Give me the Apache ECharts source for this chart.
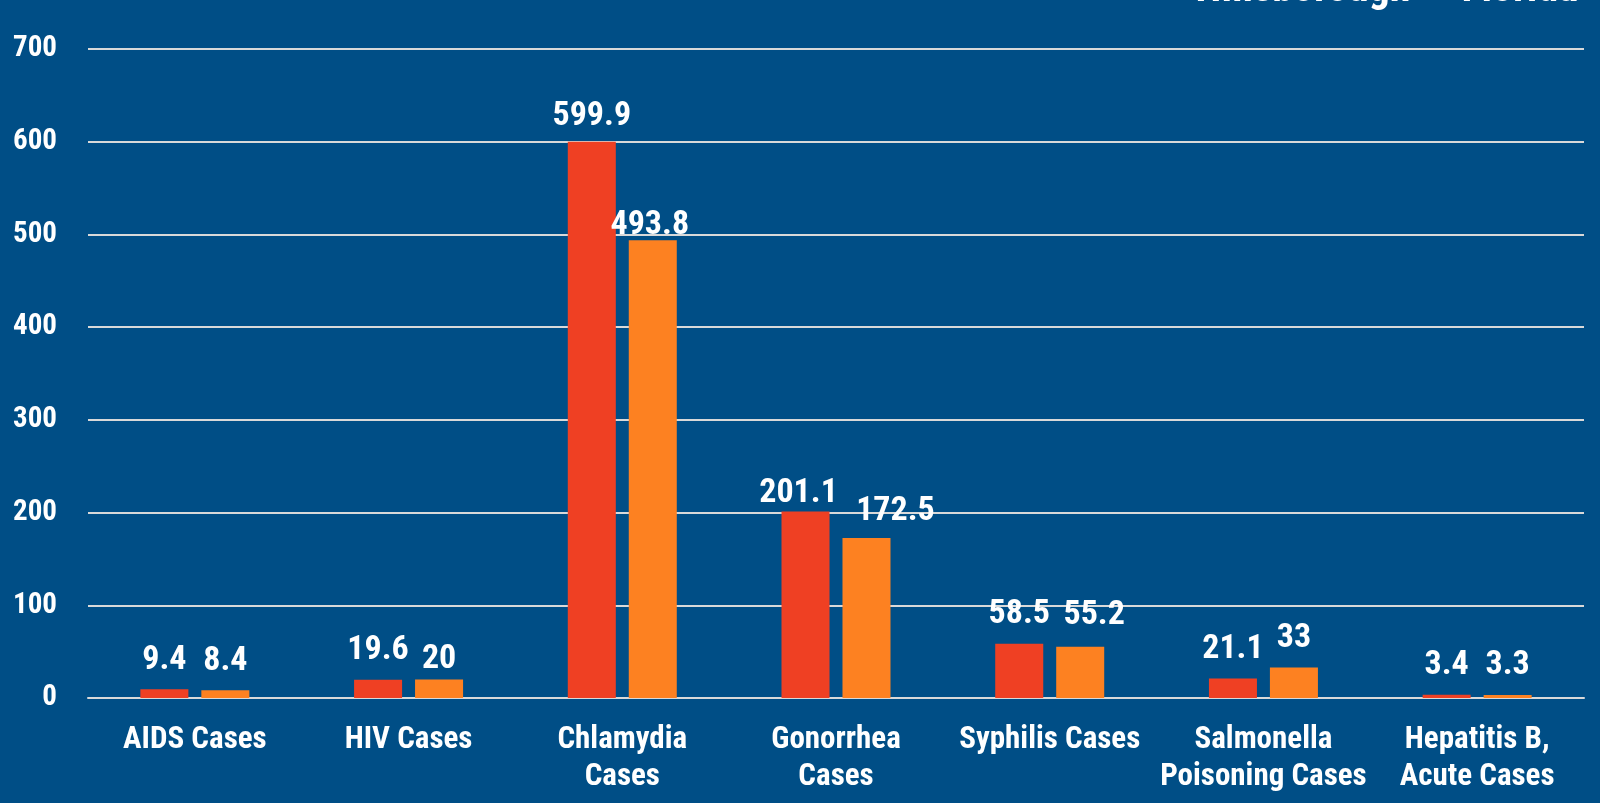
<!DOCTYPE html>
<html>
<head>
<meta charset="utf-8">
<script src="https://cdn.jsdelivr.net/npm/echarts@6/dist/echarts.min.js"></script>
<style>
  html, body { margin: 0; padding: 0; background: #004e86; }
  #chart { width: 1600px; height: 803px; }
</style>
</head>
<body>
<div id="chart"></div>
<script>
// Rates per 100,000 population
const categories = [
  'AIDS Cases',
  'HIV Cases',
  'Chlamydia\nCases',
  'Gonorrhea\nCases',
  'Syphilis Cases',
  'Salmonella\nPoisoning Cases',
  'Hepatitis B,\nAcute Cases'
];
const hillsborough = [9.4, 19.6, 599.9, 201.1, 58.5, 21.1, 3.4];
const florida = [8.4, 20, 493.8, 172.5, 55.2, 33, 3.3];
const seriesNames = ['Hillsborough', 'Florida'];
const yTicks = { min: 0, max: 700, interval: 100 };

const FONT = '"Roboto Condensed", "Liberation Sans Narrow", "Arial Narrow", sans-serif';
const WHITE = '#ffffff';

// Hand-placed value labels: [series index, data index] -> pixel offset [dx, dy]
const labelNudges = {
  '0-2': [0, 4],
  '0-3': [-7, 11],
  '1-1': [0, 9],
  '1-2': [-3, 14],
  '1-3': [29, 2],
  '1-4': [14, -2]
};

function withNudges(values, seriesIndex) {
  return values.map((v, i) => {
    const off = labelNudges[seriesIndex + '-' + i];
    return off ? { value: v, label: { offset: off } } : v;
  });
}

const chart = echarts.init(document.getElementById('chart'), null, { renderer: 'canvas' });

const labelStyle = {
  show: true,
  position: 'top',
  distance: 12,
  color: WHITE,
  fontFamily: FONT,
  fontWeight: 'bold',
  fontSize: 34
};

chart.setOption({
  backgroundColor: '#004e86',
  animation: false,
  textStyle: { fontFamily: FONT },
  legend: {
    data: seriesNames,
    top: -31,
    right: 22,
    padding: 0,
    itemWidth: 16,
    itemHeight: 12,
    itemGap: 30,
    icon: 'rect',
    textStyle: { color: WHITE, fontFamily: FONT, fontWeight: 'bold', fontSize: 42 }
  },
  grid: { left: 88, right: 16, top: 49, bottom: 105, containLabel: false },
  xAxis: {
    type: 'category',
    data: categories,
    axisLine: { show: true, lineStyle: { color: '#d9d9d9', width: 2 } },
    axisTick: { show: false },
    axisLabel: {
      interval: 0,
      margin: 24,
      color: WHITE,
      fontFamily: FONT,
      fontWeight: 'bold',
      fontSize: 31,
      lineHeight: 37
    }
  },
  yAxis: {
    type: 'value',
    min: yTicks.min,
    max: yTicks.max,
    interval: yTicks.interval,
    axisLine: { show: false },
    axisTick: { show: false },
    splitLine: { lineStyle: { color: '#d9d9d9', width: 2 } },
    axisLabel: {
      margin: 31,
      color: WHITE,
      fontFamily: FONT,
      fontWeight: 'bold',
      fontSize: 29
    }
  },
  series: [
    {
      name: seriesNames[0],
      type: 'bar',
      data: withNudges(hillsborough, 0),
      barGap: '27%',
      barCategoryGap: '49%',
      itemStyle: { color: '#ef4023' },
      label: labelStyle
    },
    {
      name: seriesNames[1],
      type: 'bar',
      data: withNudges(florida, 1),
      itemStyle: { color: '#fd8121' },
      label: labelStyle
    }
  ]
});
</script>
</body>
</html>
